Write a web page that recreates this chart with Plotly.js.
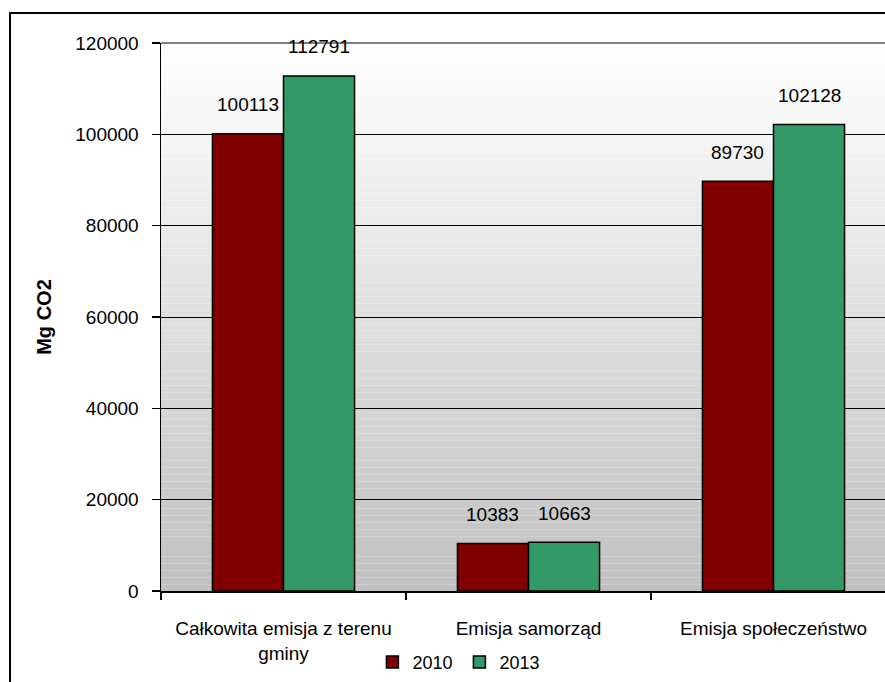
<!DOCTYPE html>
<html>
<head>
<meta charset="utf-8">
<script src="https://cdn.plot.ly/plotly-3.0.1.min.js"></script>
<style>html,body{margin:0;padding:0;background:#fff;}</style>
</head>
<body>
<div id="chart" style="width:885px;height:682px;"></div>
<script>
const categories = ["Całkowita emisja z terenu<br>gminy", "Emisja samorząd", "Emisja społeczeństwo"];
const seriesNames = ["2010", "2013"];
const values2010 = [100113, 10383, 89730];
const values2013 = [112791, 10663, 102128];
const yTicks = [0, 20000, 40000, 60000, 80000, 100000, 120000];

const FONT = '"Liberation Sans", Arial, sans-serif';
const FS = 19;
const colors = ["#800000", "#339966"];
const allSeries = [values2010, values2013];

const W = 885, H = 682;
const mL = 161, mT = 43, mB = 91, mR = 0;
const plotW = W - mL - mR, plotH = H - mT - mB;
const catWidthPx = 245;
const bargap = 0.42;

const traces = allSeries.map((vals, i) => ({
  type: 'bar',
  name: seriesNames[i],
  x: categories,
  y: vals,
  marker: {color: colors[i], line: {color: '#000', width: 1.5}},
  hoverinfo: 'x+y'
}));

// gradient background stripes
const shapes = [];
const N = 80;
for (let k = 0; k < N; k++) {
  const t = (k + 0.5) / N; // 0 bottom -> 1 top
  const c = Math.round(192 + (255 - 192) * t);
  shapes.push({type: 'rect', xref: 'paper', yref: 'paper', x0: 0, x1: 1,
    y0: k / N, y1: (k + 1) / N, fillcolor: `rgb(${c},${c},${c})`,
    line: {width: 0}, layer: 'below'});
}
// top plot border (grey)
shapes.push({type: 'line', xref: 'paper', yref: 'paper', x0: 0, x1: 1, y0: 1, y1: 1,
  line: {color: '#808080', width: 2}, layer: 'above'});
// outer chart border
shapes.push({type: 'rect', xref: 'paper', yref: 'paper',
  x0: (10 - mL) / plotW, x1: (W + 20 - mL) / plotW,
  y0: (mT + plotH - (H + 20)) / plotH, y1: (mT + plotH - 13) / plotH,
  line: {color: '#000', width: 2}, fillcolor: 'rgba(0,0,0,0)', layer: 'above'});

const groupHalf = catWidthPx * (1 - bargap) / 4;
const annotations = [];
allSeries.forEach((vals, i) => {
  vals.forEach((v, j) => {
    annotations.push({x: j, y: v, xref: 'x', yref: 'y', text: String(v), showarrow: false,
      xshift: i === 0 ? -groupHalf : groupHalf, yanchor: 'middle', yshift: 29,
      font: {family: FONT, size: FS, color: '#000'}});
  });
});

const layout = {
  width: W, height: H,
  margin: {l: mL, r: mR, t: mT, b: mB, pad: 0},
  paper_bgcolor: '#fff',
  plot_bgcolor: 'rgba(0,0,0,0)',
  barmode: 'group',
  bargap: bargap,
  bargroupgap: 0,
  showlegend: true,
  legend: {orientation: 'h', x: 0.292, y: -0.13, xanchor: 'left', yanchor: 'middle',
    font: {family: FONT, size: 18, color: '#000'}, bgcolor: 'rgba(0,0,0,0)', itemwidth: 30,
    entrywidth: 42, entrywidthmode: 'pixels',
    traceorder: 'normal'},
  font: {family: FONT, size: FS, color: '#000'},
  xaxis: {
    type: 'category',
    range: [-0.5, -0.5 + plotW / catWidthPx],
    showline: true, linecolor: '#000', linewidth: 1.5,
    ticks: 'outside', tickson: 'boundaries', ticklen: 7, tickcolor: '#000', tickwidth: 1.5,
    showgrid: false, zeroline: false,
    tickfont: {family: FONT, size: FS, color: '#000'},
    ticklabelstandoff: 20,
    fixedrange: true
  },
  yaxis: {
    range: [0, 120000],
    tickvals: yTicks,
    ticktext: yTicks.map(String),
    showline: true, linecolor: '#000', linewidth: 1.5,
    ticks: 'outside', ticklen: 8, tickcolor: '#000', tickwidth: 1.5,
    showgrid: true, gridcolor: '#000', gridwidth: 1,
    zeroline: false,
    tickfont: {family: FONT, size: FS, color: '#000'},
    ticklabelstandoff: 9,
    title: {text: '<b>Mg CO2</b>', font: {family: FONT, size: 20, color: '#000'}, standoff: 18},
    fixedrange: true
  },
  shapes: shapes,
  annotations: annotations
};

Plotly.newPlot('chart', traces, layout, {displayModeBar: false, staticPlot: true});
</script>
</body>
</html>
